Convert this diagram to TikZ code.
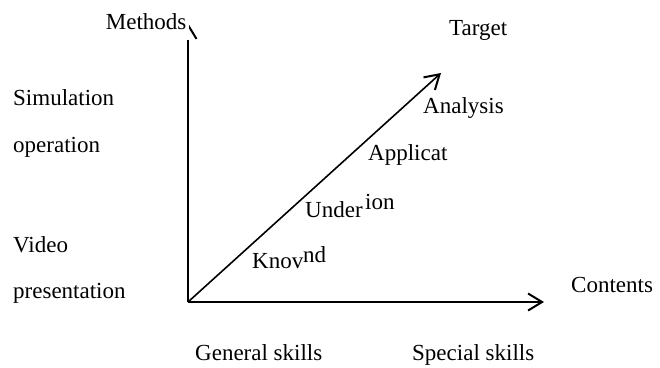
\documentclass[tikz,border=0pt]{standalone}
\usepackage{fontspec}
\setmainfont{Liberation Serif}
\usetikzlibrary{arrows.meta, positioning}

\begin{document}
\begin{tikzpicture}[x=1pt, y=-1pt,
		lbl/.style = {anchor=base west, inner sep=0pt, font=\fontsize{23}{28}\selectfont},
		axis/.style = {line width=2pt, -{Straight Barb[length=14pt, width=17pt, line width=2pt]}}]
		\useasboundingbox (0,0) rectangle (660,367);
		\coordinate (o) at (188,302);
		\coordinate (ytip) at (188,23);
		\coordinate (xtip) at (544,302);
		\coordinate (ztip) at (441,73);
		\draw [axis] (o) -- (ytip);
		\draw [axis] (o) -- (xtip);
		\draw [axis, line width=1.6pt] (o) -- (ztip);
		% labels of the axes
		\node (methods) [lbl, anchor=base east, fill=white, inner xsep=3pt, inner ysep=11pt] at (189.6,29) {Methods};
		\node (target) [lbl] at (449,35) {Target};
		\node (contents) [lbl] at (571,292) {Contents};
		% along the target line
		\node (analysis) [lbl] at (423,113) {Analysis};
		\node (applicat) [lbl] at (368,160) {Applicat};
		\node (under) [lbl, fill=white, inner sep=2pt] at (303,217) {Under};
		\node (ion) [lbl] at (365,209) {ion};
		\node (knov) [lbl] at (252,268) {Knov};
		\node (nd) [lbl] at (303,262) {nd};
		% methods side
		\node (simulation) [lbl] at (13,105) {Simulation};
		\node (operation) [lbl] at (13,152) {operation};
		\node (video) [lbl] at (13,252) {Video};
		\node (presentation) [lbl] at (13,298) {presentation};
		% contents side
		\node (general) [lbl] at (195,360) {General skills};
		\node (special) [lbl] at (412,360) {Special skills};
	\end{tikzpicture}
\end{document}
